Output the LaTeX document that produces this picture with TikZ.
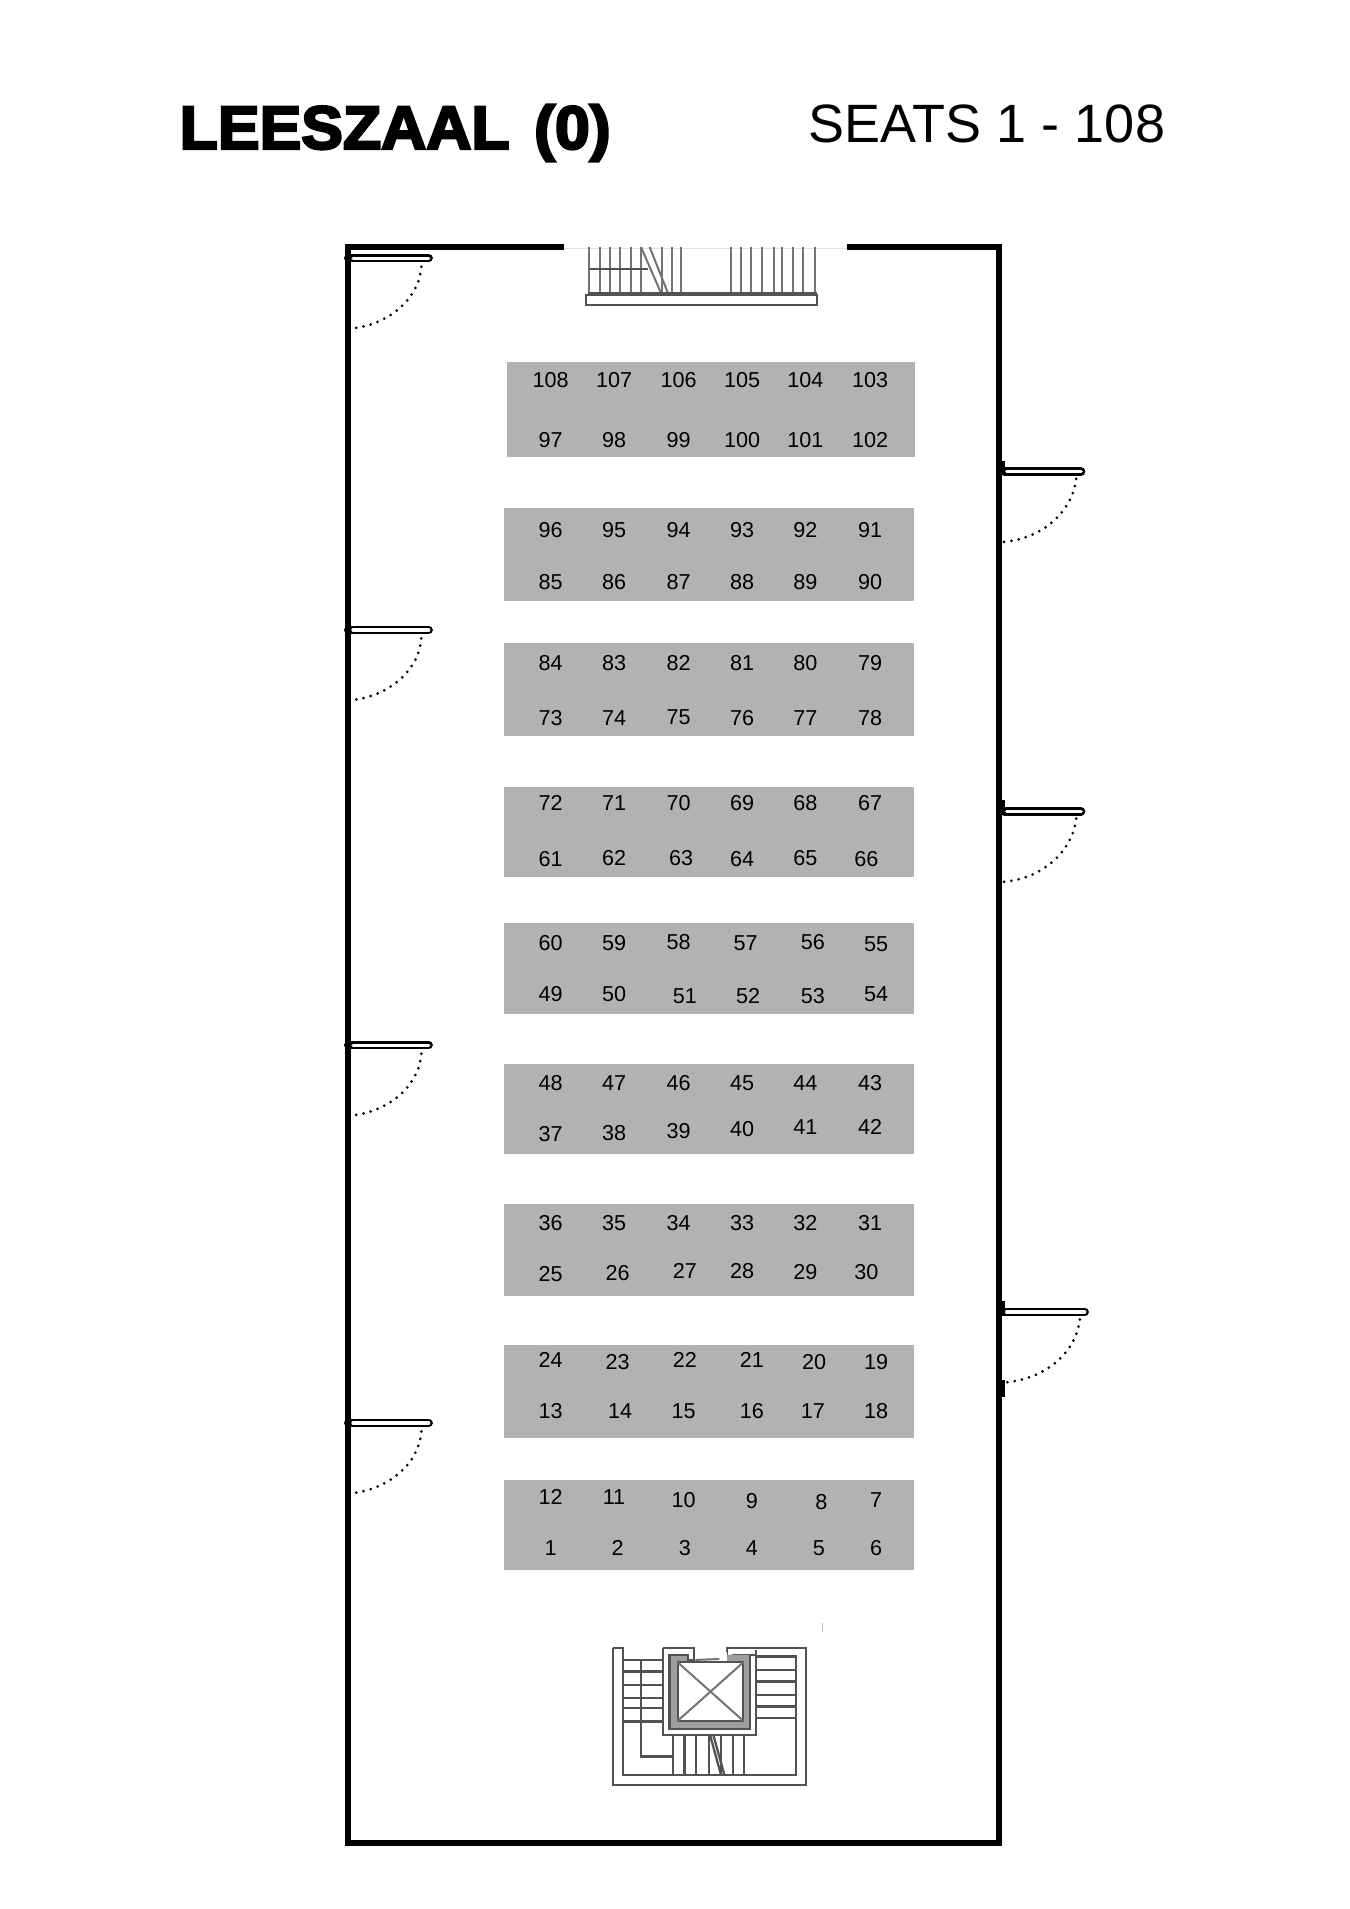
\documentclass[tikz,border=0pt]{standalone}
\usepackage{fontspec}
\setmainfont{Liberation Sans}
\newfontfamily\heavyfont[FakeBold=4,FakeStretch=1.025]{Liberation Sans Bold}
\tikzset{
  x=0.6098pt,y=-0.6098pt,
  wall/.style={line width=3pt,black,line cap=rect},
  desk/.style={fill=black!30,draw=none},
  seat/.style={inner sep=0pt,font=\fontsize{10.8}{12}\selectfont,text=black},
  panel/.style={line width=4.2pt,black,line cap=round},
  panelin/.style={line width=1.7pt,white,line cap=round},
  swing/.style={line width=1.5pt,line cap=round,dash pattern=on 0pt off 3.7pt},
  stair/.style={line width=1.15pt,black!68},
  stairthin/.style={line width=1pt,black!55},
}
\newcommand{\ldoor}[1]{%
  \draw[panel] (286,#1) -- (352,#1);
  \draw[panelin] (290,#1) -- (352,#1);
  \draw[swing] (346,#1+7) .. controls (344,#1+34) and (318,#1+56) .. (285,#1+58);
}
\newcommand{\rdoor}[2]{%
  \draw[line width=1.2pt,black] (823.5,#1-9) -- (823.5,#1+3);
  \draw[panel] (824,#1) -- (#2-3,#1);
  \draw[panelin] (826,#1) -- (#2-3,#1);
  \draw[swing] (#2-7,#1+6) .. controls (#2-10,#1+32) and (#2-34,#1+56) .. (821,#1+58);
}
\begin{document}
\begin{tikzpicture}
\useasboundingbox (0,0) rectangle (1107,1565.4);
\fill[white] (0,0) rectangle (1107,1565.4);
% titles
\node[anchor=base west,inner sep=0pt] (title) at (147,122) {\heavyfont\fontsize{30.5}{36}\selectfont LEESZAAL \kern3.6pt(0)};
\node[anchor=west,inner sep=0pt] (seats) at (663,102) {\fontsize{27}{32}\selectfont SEATS 1 - 108};
\begin{scope}[yscale=0.999,xshift=-0.3pt]
% desks
\fill[desk] (416,297) rectangle (751,375);
\fill[desk] (414,417) rectangle (750,493);
\fill[desk] (414,528) rectangle (750,604);
\fill[desk] (414,646) rectangle (750,720);
\fill[desk] (414,758) rectangle (750,832);
\fill[desk] (414,873) rectangle (750,947);
\fill[desk] (414,988) rectangle (750,1064);
\fill[desk] (414,1104) rectangle (750,1180);
\fill[desk] (414,1215) rectangle (750,1289);
% seats: number/x/y
\foreach \n/\x/\y in {
108/452/312,107/504/312,106/557/312,105/609/312,104/661/312,103/714/312,
97/452/361,98/504/361,99/557/361,100/609/361,101/661/361,102/714/361,
96/452/435,95/504/435,94/557/435,93/609/435,92/661/435,91/714/435,
85/452/478,86/504/478,87/557/478,88/609/478,89/661/478,90/714/478,
84/452/544,83/504/544,82/557/544,81/609/544,80/661/544,79/714/544,
73/452/589,74/504/589,75/557/589,76/609/589,77/661/589,78/714/589,
72/452/659,71/504/659,70/557/659,69/609/659,68/661/659,67/714/659,
61/452/705,62/504/704,63/559/704,64/609/705,65/661/704,66/711/705,
60/452/774,59/504/774,58/557/773,57/612/774,56/667/773,55/719/775,
49/452/816,50/504/816,51/562/818,52/614/818,53/667/818,54/719/816,
48/452/889,47/504/889,46/557/889,45/609/889,44/661/889,43/714/889,
37/452/931,38/504/930,39/557/928,40/609/927,41/661/925,42/714/925,
36/452/1004,35/504/1004,34/557/1004,33/609/1004,32/661/1004,31/714/1004,
25/452/1046,26/507/1045,27/562/1043,28/609/1043,29/661/1044,30/711/1044,
24/452/1116,23/507/1118,22/562/1116,21/617/1116,20/668/1118,19/719/1118,
13/452/1158,14/509/1158,15/561/1158,16/617/1158,17/667/1158,18/719/1158,
12/452/1229,11/504/1229,10/561/1231,9/617/1232,8/674/1233,7/719/1231,
1/452/1271,2/507/1271,3/562/1271,4/617/1271,5/672/1271,6/719/1271}
  {\node[seat] (s\n) at (\x,\y) {\n};}
% doors
\ldoor{212}\ldoor{517}\ldoor{858}\ldoor{1168}
\rdoor{387}{890}\rdoor{666}{890}\rdoor{1077}{893}
\fill[black] (820,1133) rectangle (825,1147);
% walls
\draw[wall] (285.5,203) rectangle (820,1513);
\fill[white] (463,199) rectangle (695,207);
\draw[line width=0.4pt,black!12] (463,204) -- (695,204);
% top stair (zoom coordinates)
\begin{scope}[shift={(270.6,188.6)},x=0.1722pt,y=-0.1666pt]
  \foreach \v in {755,785,815,845,875,905,965,995,1020,1165,1195,1225,1255,1290,1315,1345,1375,1410}
    \draw[stairthin] (\v,52) -- (\v,195);
  \draw[stair] (755,118) -- (925,118);
  \draw[stairthin] (905,52) -- (965,195);
  \draw[stairthin] (930,52) -- (985,195);
  \draw[stair] (750,190) -- (1415,190);
  \draw[stair] (745,197) rectangle (1415,225);
\end{scope}
% bottom stair (zoom coordinates)
\begin{scope}[shift={(483.8,1328.4)},x=0.1666pt,y=-0.1666pt]
  % outer walls
  \draw[stair] (70,88) -- (70,500) -- (650,500) -- (650,90) -- (420,90) -- (412,90) -- (412,125) -- (430,125) -- (430,110) -- (500,110);
  \draw[stair] (70,88) -- (100,88) -- (100,470) -- (620,470) -- (620,115) -- (500,115);
  % lift shaft
  \fill[black!38,even odd rule] (240,110) rectangle (482,332) (265,132) rectangle (462,308);
  \fill[white] (296,100) rectangle (412,135);
  \draw[stair] (220,88) -- (220,350) -- (500,350) -- (500,95);
  \draw[stair] (220,88) -- (315,88) -- (315,125) -- (295,125) -- (295,110) -- (240,110) -- (240,332) -- (482,332) -- (482,110);
  \draw[stair] (265,132) rectangle (462,308);
  \draw[stairthin] (265,132) -- (462,308) (462,132) -- (265,308);
  \draw[stairthin] (318,125) -- (390,122);
  % treads
  \foreach \t in {125,160,200,240,270,310} \draw[stair] (100,\t) -- (220,\t);
  \foreach \t in {115,155,190,230,265,300} \draw[stair] (500,\t) -- (620,\t);
  \foreach \t in {250,285,320,360,395,430,465} \draw[stair] (\t,350) -- (\t,470);
  \draw[stair] (155,125) -- (155,415) -- (250,415);
  \draw[stair] (362,350) -- (395,470);
  \draw[stair] (372,350) -- (405,470);
  \draw[line width=0.4pt,black!25] (700,15) -- (700,40);
\end{scope}
\end{scope}
\end{tikzpicture}
\end{document}
